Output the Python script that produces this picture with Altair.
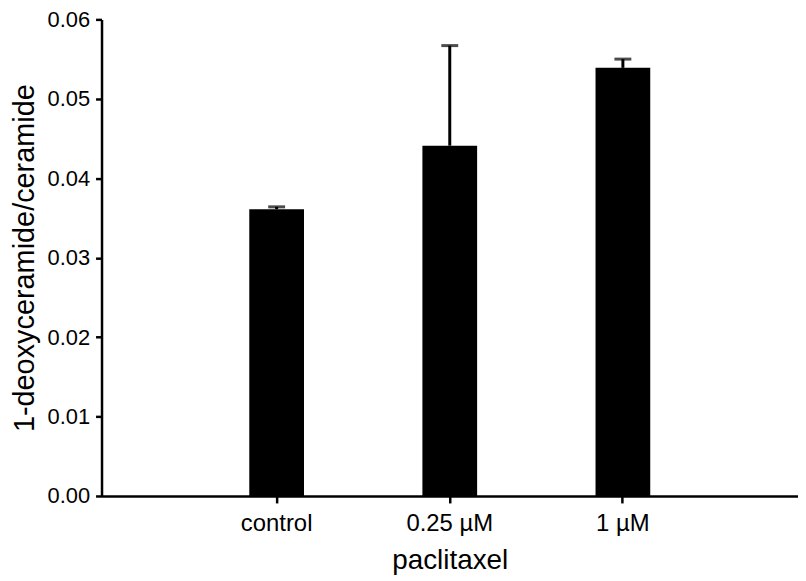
import altair as alt
import pandas as pd

categories = ["control", "0.25 µM", "1 µM"]
means = [0.0361, 0.0441, 0.0539]
errors = [0.0003, 0.0126, 0.0011]
y_ticks = [0, 0.01, 0.02, 0.03, 0.04, 0.05, 0.06]

df = pd.DataFrame({"group": categories, "mean": means, "err": errors})
df["upper"] = df["mean"] + df["err"]

font = "Liberation Sans"
xscale = alt.Scale(domain=categories, paddingInner=0.977, paddingOuter=1)

x = alt.X("group:N", sort=categories, title="paclitaxel", scale=xscale,
          axis=alt.Axis(labelAngle=0, labelAlign="center", labelBaseline="top"))
y = alt.Y("mean:Q", title="1-deoxyceramide/ceramide",
          scale=alt.Scale(domain=[0, 0.06], nice=False, zero=True),
          axis=alt.Axis(values=y_ticks, format=".2f"))

base = alt.Chart(df)
err = base.mark_rule(color="black", strokeWidth=3).encode(
    x=x, y=y, y2="upper:Q")
bars = base.mark_bar(color="black", size=55).encode(x=x, y=y)
cap = base.mark_tick(color="black", thickness=3, size=17, orient="horizontal").encode(
    x=x, y="upper:Q")

chart = (
    alt.layer(err, bars, cap)
    .properties(
        width=700, height=479,
        autosize=alt.AutoSizeParams(type="none"),
        padding={"left": 94, "top": 10, "right": 0, "bottom": 82},
    )
    .configure_view(stroke=None)
    .configure_axis(grid=False, domainColor="black", tickColor="black",
                    labelColor="black", titleColor="black", domainWidth=2.5,
                    tickWidth=2.5, labelFont=font, titleFont=font,
                    titleFontWeight="normal")
    .configure_axisX(labelFontSize=24, titleFontSize=28, tickSize=7,
                     labelPadding=9, titlePadding=11)
    .configure_axisY(labelFontSize=22, titleFontSize=29, tickSize=6,
                     labelPadding=6, titlePadding=8)
)

chart.save("out.html", embed_options={"renderer": "svg", "actions": False})
